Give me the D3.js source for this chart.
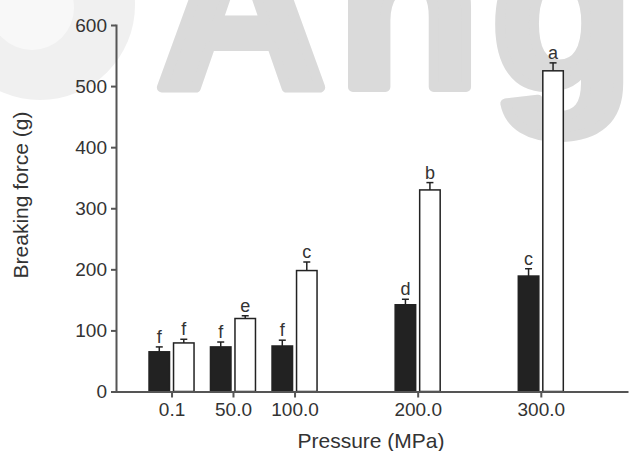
<!DOCTYPE html>
<html>
<head>
<meta charset="utf-8">
<script src="https://cdn.jsdelivr.net/npm/d3@7"></script>
<style>
  body { margin: 0; background: #fff; }
  svg { display: block; font-family: "Liberation Sans", Arial, sans-serif; }
  .axis path, .axis line { stroke: #555; stroke-width: 2; }
  .axis text { fill: #333; font-size: 19px; }
</style>
</head>
<body>
<script>
// breaking force vs pressure, two series per pressure level
var pressures = [0.1, 50, 100, 200, 300];
var tickLabels = ['0.1', '50.0', '100.0', '200.0', '300.0'];
var darkMean = [65, 73, 74.5, 142, 189];
var darkErr = [8, 8, 9.5, 9, 12];
var darkLetters = ['f', 'f', 'f', 'd', 'c'];
var whiteMean = [79.5, 119.5, 198, 330, 525];
var whiteErr = [6, 4.5, 14, 12, 13];
var whiteLetters = ['f', 'e', 'c', 'b', 'a'];
var yTicks = [0, 100, 200, 300, 400, 500, 600];

var width = 630, height = 451;

var svg = d3.select('body').append('svg')
    .attr('width', width)
    .attr('height', height);

// faint watermark behind the chart
var wm = svg.append('g').attr('class', 'watermark');
wm.append('circle').attr('cx', 40).attr('cy', 5).attr('r', 95).attr('fill', '#f0f0f0');
wm.append('circle').attr('cx', 32).attr('cy', 8).attr('r', 42).attr('fill', '#f8f8f8');
wm.append('text')
    .attr('x', 156)
    .attr('y', 87)
    .attr('font-size', 236)
    .attr('font-weight', 'bold')
    .attr('letter-spacing', 10)
    .attr('fill', '#dadada')
    .attr('stroke', '#dadada')
    .attr('stroke-width', 10)
    .attr('stroke-linejoin', 'round')
    .text('Ang');

var x = d3.scaleLinear().domain([-45, 370]).range([116, 627]);
var y = d3.scaleLinear().domain([0, 600]).range([391.5, 25]);

var barW = 20.5,
    gap = 2,
    capW = 7;

var series = [
  {mean: darkMean, err: darkErr, letters: darkLetters, fill: '#222', off: -gap - barW},
  {mean: whiteMean, err: whiteErr, letters: whiteLetters, fill: '#fff', off: gap}
];

var rows = [];
series.forEach(function(s) {
  pressures.forEach(function(p, i) {
    rows.push({p: p, mean: s.mean[i], err: s.err[i], letter: s.letters[i], fill: s.fill, off: s.off});
  });
});

var plot = svg.append('g');

plot.selectAll('rect.bar')
  .data(rows)
  .enter().append('rect')
    .attr('class', 'bar')
    .attr('x', function(d) { return x(d.p) + d.off; })
    .attr('y', function(d) { return y(d.mean); })
    .attr('width', barW)
    .attr('height', function(d) { return y(0) - y(d.mean); })
    .attr('fill', function(d) { return d.fill; })
    .attr('stroke', '#222')
    .attr('stroke-width', 1.5);

var eb = plot.selectAll('g.err')
  .data(rows)
  .enter().append('g')
    .attr('class', 'err')
    .attr('stroke', '#222')
    .attr('stroke-width', 1.5);

eb.append('line')
    .attr('x1', function(d) { return x(d.p) + d.off + barW / 2; })
    .attr('x2', function(d) { return x(d.p) + d.off + barW / 2; })
    .attr('y1', function(d) { return y(d.mean); })
    .attr('y2', function(d) { return y(d.mean + d.err); });

eb.append('line')
    .attr('x1', function(d) { return x(d.p) + d.off + barW / 2 - capW / 2; })
    .attr('x2', function(d) { return x(d.p) + d.off + barW / 2 + capW / 2; })
    .attr('y1', function(d) { return y(d.mean + d.err); })
    .attr('y2', function(d) { return y(d.mean + d.err); });

plot.selectAll('text.letter')
  .data(rows)
  .enter().append('text')
    .attr('class', 'letter')
    .attr('x', function(d) { return x(d.p) + d.off + barW / 2; })
    .attr('y', function(d) { return y(d.mean + d.err) - 4; })
    .attr('text-anchor', 'middle')
    .attr('font-size', 18)
    .attr('fill', '#333')
    .text(function(d) { return d.letter; });

// axes
var xAxis = d3.axisBottom(x)
    .tickValues(pressures)
    .tickFormat(function(d, i) { return tickLabels[i]; })
    .tickSize(6)
    .tickSizeOuter(0)
    .tickPadding(5);

var yAxis = d3.axisLeft(y)
    .tickValues(yTicks)
    .tickSize(5)
    .tickSizeOuter(0)
    .tickPadding(4);

svg.append('g')
    .attr('class', 'axis')
    .attr('transform', 'translate(0,' + y(0) + ')')
    .call(xAxis);

svg.append('g')
    .attr('class', 'axis')
    .attr('transform', 'translate(' + x.range()[0] + ',0)')
    .call(yAxis);

svg.selectAll('.axis .domain').attr('stroke-linecap', 'square');

svg.append('text')
    .attr('transform', 'translate(28,195) rotate(-90)')
    .attr('text-anchor', 'middle')
    .attr('font-size', 21)
    .attr('fill', '#333')
    .text('Breaking force (g)');

svg.append('text')
    .attr('x', 371)
    .attr('y', 448)
    .attr('text-anchor', 'middle')
    .attr('font-size', 21)
    .attr('fill', '#333')
    .text('Pressure (MPa)');
</script>
</body>
</html>
